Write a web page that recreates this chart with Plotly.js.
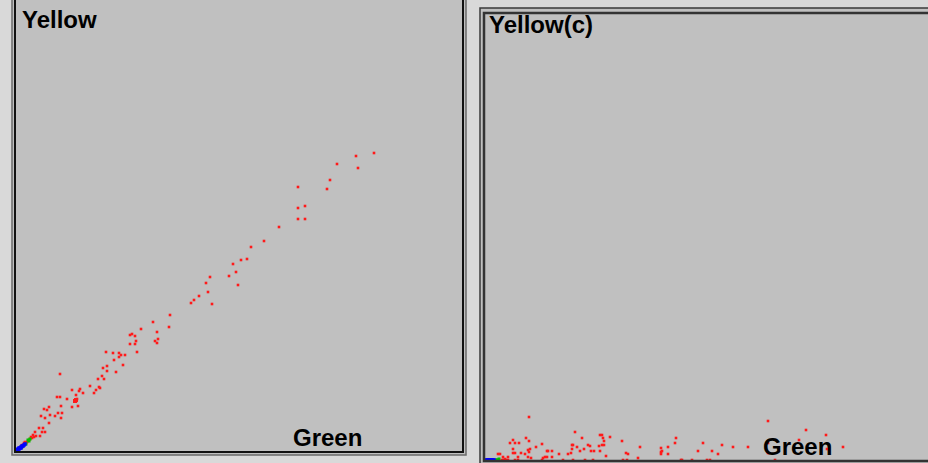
<!DOCTYPE html>
<html>
<head>
<meta charset="utf-8">
<script src="https://cdn.plot.ly/plotly-3.0.1.min.js"></script>
<style>html,body{margin:0;padding:0;background:#d9d9d9;}#chart{width:928px;height:463px;}</style>
</head>
<body>
<div id="chart"></div>
<script>
// Left panel: Green (x) vs Yellow (y), red population
var leftRedGreen  = [358,340,321,342,314,311,282,289,282,282,289,263,248,235,231,225,217,220,213,222,194,190,192,183,178,175,196,154,137,125,153,141,114,116,119,142,139,141,120,114,119,121,90,97,103,105,109,103,98,91,87,107,91,100,86,88,82,44,56,63,64,67,74,80,84,78,83,41,44,51,59,60,61,60,56,62,45,42,46,28,31,33,34,39,25,29,45,33,27,23,26,29,19,17,20,24,15,13,11,8,7,14,16,18,12,10,9,6,5];
var leftRedYellow = [298,295,287,283,271,262,264,245,243,232,232,224,210,204,192,191,187,179,175,166,174,168,159,155,151,148,147,136,129,122,124,119,116,117,115,112,110,108,110,107,107,99,99,98,98,96,96,94,91,85,83,86,80,79,75,72,72,77,61,60,62,58,65,61,63,58,64,54,54,52,50,50,52,56,44,45,45,38,38,42,41,44,36,35,35,33,33,28,23,23,19,19,19,16,15,15,14,11,9,8,5,12,13,14,10,8,9,6,4];
var leftBigGreen  = [59,60];
var leftBigYellow = [50,51];
var leftGreenPopX = [13,12,6,10,14];
var leftGreenPopY = [10,11,4,7,12];
var leftBlueX = [0,1,2,3,4,5,6,7,8,9,2,1,0,3,5];
var leftBlueY = [0,1,2,2,3,4,5,5,6,7,1,0,1,3,3];

// Right panel: Green (x) vs Yellow(c) (y), red population
var rightRedGreen  = [43,27,24,29,33,40,43,27,29,27,12,14,17,22,19,32,35,39,42,44,43,42,45,50,56,61,62,66,59,61,57,66,73,82,89,86,87,86,91,94,85,96,98,104,105,108,102,114,116,117,118,116,118,113,114,120,124,136,140,142,154,152,175,175,176,175,182,182,189,190,195,196,206,212,217,221,224,226,232,236,247,262,282,282,282,289,313,320,340,341,357,4,7,16,18,20,22,29,32,56,77,87,99,107,137,141];
var rightRedYellow = [43,20,17,17,17,22,19,11,7,7,6,6,3,3,1,3,7,6,10,11,8,3,2,13,16,9,9,9,3,3,2,3,6,6,28,15,15,11,13,9,7,22,11,14,9,9,15,25,25,22,19,15,15,14,9,4,23,19,7,6,13,2,12,8,9,6,13,6,17,22,0,0,0,9,17,0,0,9,6,15,13,13,39,17,7,0,20,30,25,11,13,0,0,0,0,0,0,0,0,0,0,0,0,0,0,0];
var rightBlueX = [0,1,2,3,4,5,6,7,8];
var rightBlueY = [0,0,0,0,0,0,0,0,0];
var rightGreenPopX = [10,11,12,13];
var rightGreenPopY = [0,0,0,1];

var W = 928, H = 463;
function px(x){return x/W;}
function py(y){return 1 - y/H;}

var red = '#ff1a1a';
function pts(x, y, xa, ya, color, size){
  return {type:'scatter', mode:'markers', x:x, y:y, xaxis:xa, yaxis:ya,
    marker:{symbol:'square', size:size, color:color, line:{width:0}},
    hoverinfo:'none', showlegend:false, cliponaxis:false};
}

var traces = [
  pts(leftRedGreen, leftRedYellow, 'x', 'y', red, 2.6),
  pts(leftBigGreen, leftBigYellow, 'x', 'y', red, 4),
  pts(leftGreenPopX, leftGreenPopY, 'x', 'y', '#00c000', 3),
  pts(leftBlueX, leftBlueY, 'x', 'y', '#0000ff', 3.5),
  pts(rightRedGreen, rightRedYellow, 'x2', 'y2', red, 2.6),
  pts(rightGreenPopX, rightGreenPopY, 'x2', 'y2', '#00c000', 3),
  pts(rightBlueX, rightBlueY, 'x2', 'y2', '#0000ff', 3.5)
];

var axBase = {showgrid:false, zeroline:false, showticklabels:false, ticks:'', showline:false, fixedrange:true};

function rect(x0,y0,x1,y1,color,w,fill){
  return {type:'rect', xref:'paper', yref:'paper', x0:px(x0), x1:px(x1), y0:py(y1), y1:py(y0),
    line:{color:color, width:w}, fillcolor:fill||'rgba(0,0,0,0)', layer:'below'};
}
function rectAbove(x0,y0,x1,y1,color,w){
  var r = rect(x0,y0,x1,y1,color,w); r.layer='above'; return r;
}

var shapes = [
  // left panel frame
  rect(12,-20,466,455,'#6a6a6a',1.5,'#c0c0c0'),
  rectAbove(15,-20,463,452,'#111111',2),
  // right panel frame
  rect(480,8,960,470,'#3a3a3a',1.5,'#c0c0c0'),
  rectAbove(484,13,960,461,'#333333',2.5)
];

var fontSpec = {family:'Liberation Sans, Arial, sans-serif', size:24, color:'#000000'};
function label(text, x, y, yanchor){
  return {text:'<b>'+text+'</b>', xref:'paper', yref:'paper', x:px(x), y:py(y),
    xanchor:'left', yanchor:yanchor, showarrow:false, font:fontSpec, borderpad:0};
}

var layout = {
  width:W, height:H,
  margin:{l:0, r:0, t:0, b:0, pad:0},
  paper_bgcolor:'#d9d9d9',
  plot_bgcolor:'#c0c0c0',
  showlegend:false,
  xaxis:Object.assign({}, axBase, {domain:[px(16), px(462)], range:[0,446]}),
  yaxis:Object.assign({}, axBase, {domain:[py(451), 1], range:[0,451]}),
  xaxis2:Object.assign({}, axBase, {domain:[px(486), 1], range:[0,442], anchor:'y2'}),
  yaxis2:Object.assign({}, axBase, {domain:[py(460), py(14)], range:[0,446], anchor:'x2'}),
  shapes:shapes,
  annotations:[
    label('Yellow', 21, 5, 'top'),
    label('Green', 292, 452, 'bottom'),
    label('Yellow(c)', 488, 10, 'top'),
    label('Green', 762, 461, 'bottom')
  ]
};

Plotly.newPlot('chart', traces, layout, {staticPlot:true, displayModeBar:false});
</script>
</body>
</html>
